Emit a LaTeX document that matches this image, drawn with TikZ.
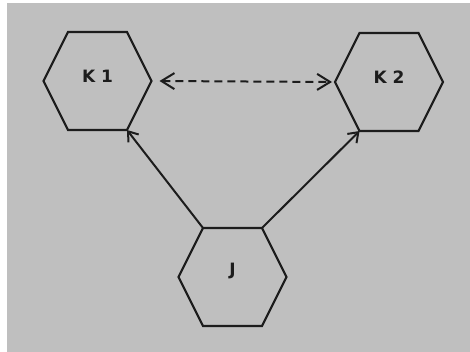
\documentclass[tikz,border=0pt]{standalone}
\usepackage{fontspec}
\setmainfont{DejaVu Sans}
\usetikzlibrary{arrows.meta,calc}
\definecolor{bg}{RGB}{191,191,191}
\definecolor{ink}{RGB}{28,28,28}
\begin{document}
\begin{tikzpicture}[x=1pt,y=-1pt,
  hexline/.style={draw=ink,line width=2.2pt,line join=miter},
  hexlabel/.style={inner sep=0pt,text=ink,font=\bfseries\fontsize{17}{17}\selectfont},
  conn/.style={draw=ink,line width=2pt,-{Straight Barb[length=9pt,width=13pt,line width=2pt]}},
  dconn/.style={draw=ink,line width=2pt,dash pattern=on 8pt off 5pt,
     {Straight Barb[length=13pt,width=16pt,line width=2pt]}-{Straight Barb[length=13pt,width=16pt,line width=2pt]}}]
\useasboundingbox (0,0) rectangle (470,352);
\fill[white] (0,0) rectangle (470,352);
\fill[bg] (7,3) rectangle (470,352);
% nodes (centres)
\node[hexlabel] (k1) at (97.5,76) {K 1};
\node[hexlabel] (k2) at (389,77) {K 2};
\node[hexlabel] (j)  at (232.5,271) {J};
\coordinate (k1c) at (97.5,81);
\coordinate (k2c) at (389,82);
\coordinate (jc)  at (232.5,277);
% hexagons
\foreach \c in {k1c,k2c,jc}{
  \draw[hexline] (\c) ++(-54,0) -- ++(24.5,-49) -- ++(59,0) -- ++(24.5,49)
     -- ++(-24.5,49) -- ++(-59,0) -- cycle;
}
% corner coordinates
\coordinate (k1r)  at ($(k1c)+(54,0)$);
\coordinate (k1br) at ($(k1c)+(29.5,49)$);
\coordinate (k2l)  at ($(k2c)+(-54,0)$);
\coordinate (k2bl) at ($(k2c)+(-29.5,49)$);
\coordinate (jtl)  at ($(jc)+(-29.5,-49)$);
\coordinate (jtr)  at ($(jc)+(29.5,-49)$);
% connectors
\draw[conn] (jtl) -- (k1br);
\draw[conn] (jtr) -- (k2bl);
\draw[dconn] ($(k1r)+(8,0)$) -- ($(k2l)+(-3,0)$);
\end{tikzpicture}
\end{document}
